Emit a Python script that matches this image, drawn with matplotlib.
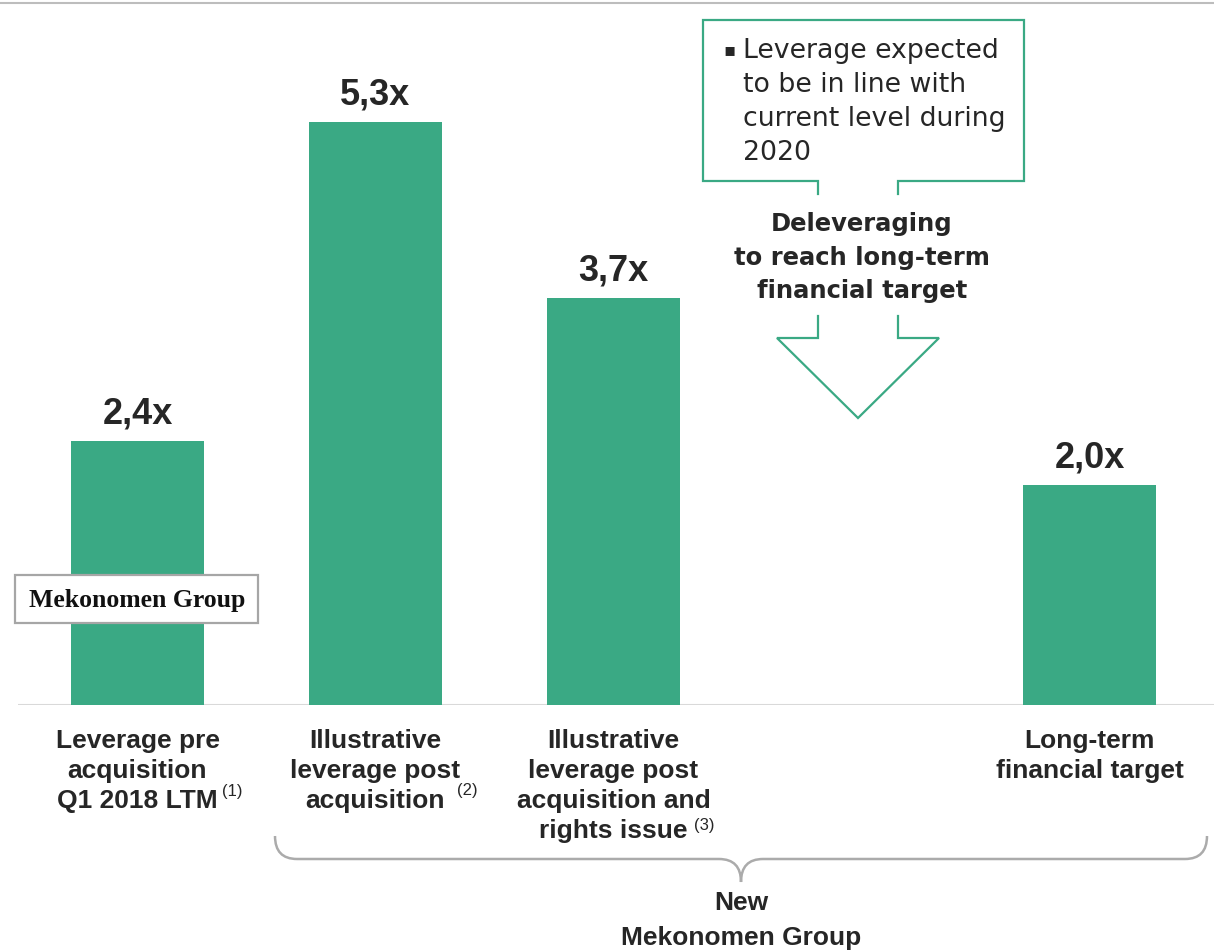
import numpy as np
import matplotlib
matplotlib.use("Agg")
import matplotlib.pyplot as plt
from matplotlib.path import Path
from matplotlib.patches import PathPatch, Rectangle

# data
categories = ["Leverage pre\nacquisition\nQ1 2018 LTM",
              "Illustrative\nleverage post\nacquisition",
              "Illustrative\nleverage post\nacquisition and\nrights issue",
              "",
              "Long-term\nfinancial target"]
notes = ["(1)", "(2)", "(3)", "", ""]
values = [2.4, 5.3, 3.7, np.nan, 2.0]
value_labels = ["2,4x", "5,3x", "3,7x", "", "2,0x"]

green = "#3aa984"
dark = "#262626"

W, H = 1214, 953
fig = plt.figure(figsize=(W / 100, H / 100), dpi=100)

# axes placed so that bar slots are 238 px apart, baseline at y=706 px
x0_px, slot_px, base_px, unit_px = 137.5, 238.0, 706.0, 110.0
left_px, top_px = 18, 5
ax = fig.add_axes([left_px / W, (H - base_px) / H, (W - left_px) / W, (base_px - top_px) / H])
ax.set_xlim((left_px - x0_px) / slot_px, (W - x0_px) / slot_px)
ax.set_ylim(0, (base_px - top_px) / unit_px)
ax.axis("off")


def P(x, y):
    # pixel position -> data coords (for annotations only)
    return ((x - x0_px) / slot_px, (base_px - y) / unit_px)


def lines(x, y0, text, dy, **kw):
    # one text per line so the line pitch is exact
    for i, t in enumerate(text.split("\n")):
        ax.text(x, P(0, y0 + i * dy)[1], t, va="baseline", clip_on=False, **kw)


x = np.arange(len(categories))
ax.bar(x, values, width=133 / slot_px, color=green, zorder=2)
ax.axhline(0, color="#d9d9d9", lw=1.5, zorder=1)

for xi, v, lab in zip(x, values, value_labels):
    if lab:
        ax.annotate(lab, (xi, v), xytext=(0, 13), textcoords="offset points",
                    ha="center", va="baseline", fontsize=26, fontweight="bold",
                    color=dark, family="Liberation Sans")

for xi, cat in zip(x, categories):
    if cat:
        lines(xi, 748, cat, 30, ha="center", fontsize=19, fontweight="bold",
              color=dark, family="Liberation Sans")

# footnote markers
note_pos = [(222, 792), (457, 791), (694, 826)]
for n, (px, py) in zip(notes, note_pos):
    ax.text(*P(px, py), n, ha="left", va="center", fontsize=12,
            color=dark, family="Liberation Sans", clip_on=False)

# top rule
fig.add_artist(plt.Line2D([0, 1], [1 - 4 / H, 1 - 4 / H], color="#bdbdbd", lw=1.5))

# logo box
lx, ly = P(15, 624)
lx2, ly2 = P(258, 576)
ax.add_patch(Rectangle((lx, ly), lx2 - lx, ly2 - ly, facecolor="white",
                       edgecolor="#a6a6a6", lw=1.6, zorder=3, clip_on=False))
ax.text(*P(137, 601), "Mekonomen Group", ha="center", va="center", fontsize=18.5,
        fontweight="heavy", family="Liberation Serif", color="#111111", zorder=4)

# callout box
callout = [(818, 195), (818, 182), (703, 182), (703, 21), (1024, 21),
           (1024, 182), (898, 182), (898, 195)]
cx, cy = zip(*[P(a, b) for a, b in callout])
ax.plot(cx, cy, color=green, lw=1.6, clip_on=False, solid_joinstyle="miter")
ax.text(*P(723, 50), "\u25aa", ha="left", va="center", fontsize=13, color=dark,
        family="DejaVu Sans")
lines(P(743, 0)[0], 58, "Leverage expected\nto be in line with\ncurrent level during\n2020",
      34, ha="left", fontsize=19.3, color=dark, family="DejaVu Sans")

# down arrow
arrow = [(818, 317), (818, 339), (777, 339), (858, 419), (939, 339),
         (898, 339), (898, 317)]
axx, ayy = zip(*[P(a, b) for a, b in arrow])
ax.plot(axx, ayy, color=green, lw=1.6, clip_on=False, solid_joinstyle="miter")
lines(P(862, 0)[0], 231, "Deleveraging\nto reach long-term\nfinancial target", 33.5,
      ha="center", fontsize=17.5, fontweight="bold", color=dark, family="DejaVu Sans")

# brace under bars 2-4
bp = [(275, 837), (275, 860), (297, 860), (719, 860), (741, 860), (741, 883),
      (741, 860), (763, 860), (1185, 860), (1207, 860), (1207, 837)]
codes = [Path.MOVETO, Path.CURVE3, Path.CURVE3, Path.LINETO, Path.CURVE3, Path.CURVE3,
         Path.CURVE3, Path.CURVE3, Path.LINETO, Path.CURVE3, Path.CURVE3]
ax.add_patch(PathPatch(Path([P(a, b) for a, b in bp], codes), facecolor="none",
                       edgecolor="#ababab", lw=1.8, clip_on=False))
lines(P(741, 0)[0], 910, "New\nMekonomen Group", 35, ha="center", fontsize=19,
      fontweight="bold", color=dark, family="Liberation Sans")

fig.savefig("out.png", dpi=100)
